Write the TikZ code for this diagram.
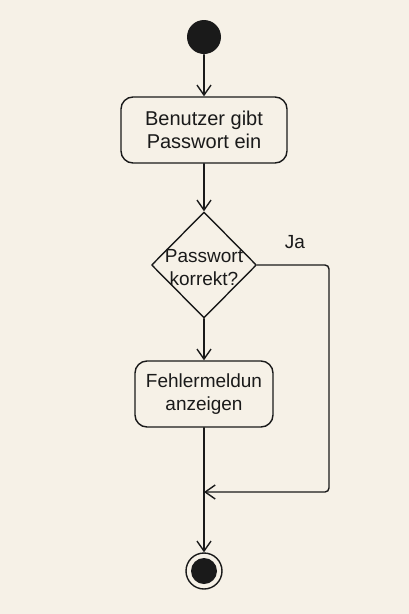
\documentclass[tikz,border=0pt]{standalone}
\usepackage{fontspec}
\setmainfont{Liberation Sans}
\usetikzlibrary{arrows.meta,shapes.geometric}

\definecolor{paper}{HTML}{F6F1E7}
\definecolor{ink}{HTML}{1A1A1A}

\begin{document}
\begin{tikzpicture}[line cap=round,line join=round,>={Straight Barb[length=10pt,width=14pt]},x=1pt,y=-1pt,
  every path/.style={draw=ink,line width=1.4pt},
  txt/.style={text=ink,font=\fontsize{19}{23}\selectfont},
  act/.style={txt,draw=ink,line width=1.4pt,rounded corners=12pt,minimum width=166pt,minimum height=66pt,align=center}]
\fill[paper,draw=none] (0,0) rectangle (409,614);

% Knoten
\node[circle,fill=ink,minimum size=34pt,inner sep=0pt] (start) at (204,37) {};
\node[act,font=\fontsize{20}{23}\selectfont] (eingabe) at (204,130) {Benutzer gibt\\Passwort ein};
\node[diamond,draw=ink,line width=1.4pt,minimum width=105pt,minimum height=106pt,inner sep=0pt,
  label={[txt,align=center,yshift=-3pt]center:Passwort\\korrekt?}] (pruef) at (204,265) {};
\node[txt] (ja) at (295,242) {Ja};
\node[act,minimum width=138pt] (fehler) at (204,394) {Fehlermeldun\\anzeigen};
\node[circle,draw=ink,line width=1.4pt,minimum size=36pt,inner sep=0pt] (ende) at (204,571) {};
\node[circle,fill=ink,minimum size=26pt,inner sep=0pt] (endekern) at (ende) {};
\coordinate (ecke) at (329,492);
\coordinate (merge) at (204,492);

% Kanten
\draw[->] (start) -- (eingabe);
\draw[->] (eingabe) -- (pruef);
\draw[->] (pruef) -- (fehler);
\draw[->] (fehler) -- (ende);
\draw[->,rounded corners=4pt] (pruef.east) -| (ecke) -- (merge);
\end{tikzpicture}
\end{document}
